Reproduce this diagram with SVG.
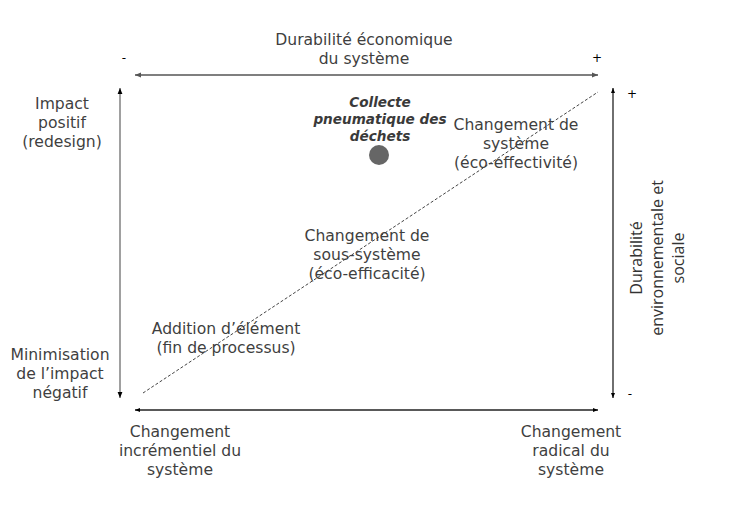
<svg xmlns="http://www.w3.org/2000/svg" width="732" height="510" viewBox="0 0 732 510">
<style>
.t{font-family:"DejaVu Sans",Verdana,sans-serif;font-size:15.6px;fill:#3f3f3f;text-anchor:middle}
.s{font-family:"DejaVu Sans",Verdana,sans-serif;font-size:12px;fill:#000;text-anchor:middle}
.b{font-family:"DejaVu Sans",Verdana,sans-serif;font-size:13.6px;font-weight:bold;font-style:italic;fill:#3a3a3a;text-anchor:middle}
.v{font-family:"Open Sans","Noto Sans",sans-serif;font-size:16px;fill:#333;text-anchor:middle}
</style>
<defs>
<marker id="a1" viewBox="0 0 10 10" refX="10" refY="5" markerWidth="4" markerHeight="4" orient="auto-start-reverse"><path d="M0,1 L10,5 L0,9 z" fill="#555"/></marker>
<marker id="a2" viewBox="0 0 10 10" refX="10" refY="5" markerWidth="4" markerHeight="4" orient="auto-start-reverse"><path d="M0,1 L10,5 L0,9 z" fill="#000"/></marker>
</defs>
<rect width="732" height="510" fill="#fff"/>
<g id="connectors">
<line x1="135" y1="75" x2="598" y2="75" stroke="#555" stroke-width="1.5" marker-start="url(#a1)" marker-end="url(#a1)"/>
<line x1="120" y1="88" x2="120" y2="398" stroke="#808080" stroke-width="1.5" marker-start="url(#a2)" marker-end="url(#a2)"/>
<line x1="613" y1="88" x2="613" y2="398" stroke="#222" stroke-width="1.3" marker-start="url(#a2)" marker-end="url(#a2)"/>
<line x1="135" y1="410" x2="598" y2="410" stroke="#222" stroke-width="1.3" marker-start="url(#a2)" marker-end="url(#a2)"/>
<line x1="143" y1="393" x2="598" y2="92" stroke="#444" stroke-width="1" stroke-dasharray="3,2"/>
</g>
<g id="axis-top">
<text class="t" x="364" y="45">Durabilité économique</text>
<text class="t" x="364" y="64">du système</text>
<text class="s" x="124" y="62">-</text>
<text class="s" x="597" y="62">+</text>
</g>
<g id="axis-right">
<text class="s" x="632" y="98">+</text>
<text class="s" x="630" y="398">-</text>
<g transform="translate(658,258) rotate(-90)">
<text class="v" x="0" y="-16">Durabilité</text>
<text class="v" x="0" y="5">environnementale et</text>
<text class="v" x="0" y="26">sociale</text>
</g>
</g>
<g id="label-impact-positif">
<text class="t" x="62" y="109">Impact</text>
<text class="t" x="62" y="128">positif</text>
<text class="t" x="62" y="147">(redesign)</text>
</g>
<g id="label-minimisation">
<text class="t" x="60" y="360">Minimisation</text>
<text class="t" x="60" y="379">de l’impact</text>
<text class="t" x="60" y="398">négatif</text>
</g>
<g id="label-incremental">
<text class="t" x="180" y="437">Changement</text>
<text class="t" x="180" y="456">incrémentiel du</text>
<text class="t" x="180" y="475">système</text>
</g>
<g id="label-radical">
<text class="t" x="571" y="437">Changement</text>
<text class="t" x="571" y="456">radical du</text>
<text class="t" x="571" y="475">système</text>
</g>
<g id="node-addition">
<text class="t" x="226" y="334">Addition d’élément</text>
<text class="t" x="226" y="353">(fin de processus)</text>
</g>
<g id="node-sous-systeme">
<text class="t" x="367" y="241">Changement de</text>
<text class="t" x="367" y="260">sous-système</text>
<text class="t" x="367" y="279">(éco-efficacité)</text>
</g>
<g id="node-systeme">
<text class="t" x="516" y="130">Changement de</text>
<text class="t" x="516" y="149">système</text>
<text class="t" x="516" y="168">(éco-effectivité)</text>
</g>
<g id="node-collecte">
<text class="b" x="380" y="107">Collecte</text>
<text class="b" x="380" y="124">pneumatique des</text>
<text class="b" x="380" y="141">déchets</text>
<circle cx="379" cy="155" r="10" fill="#666"/>
</g>
</svg>
